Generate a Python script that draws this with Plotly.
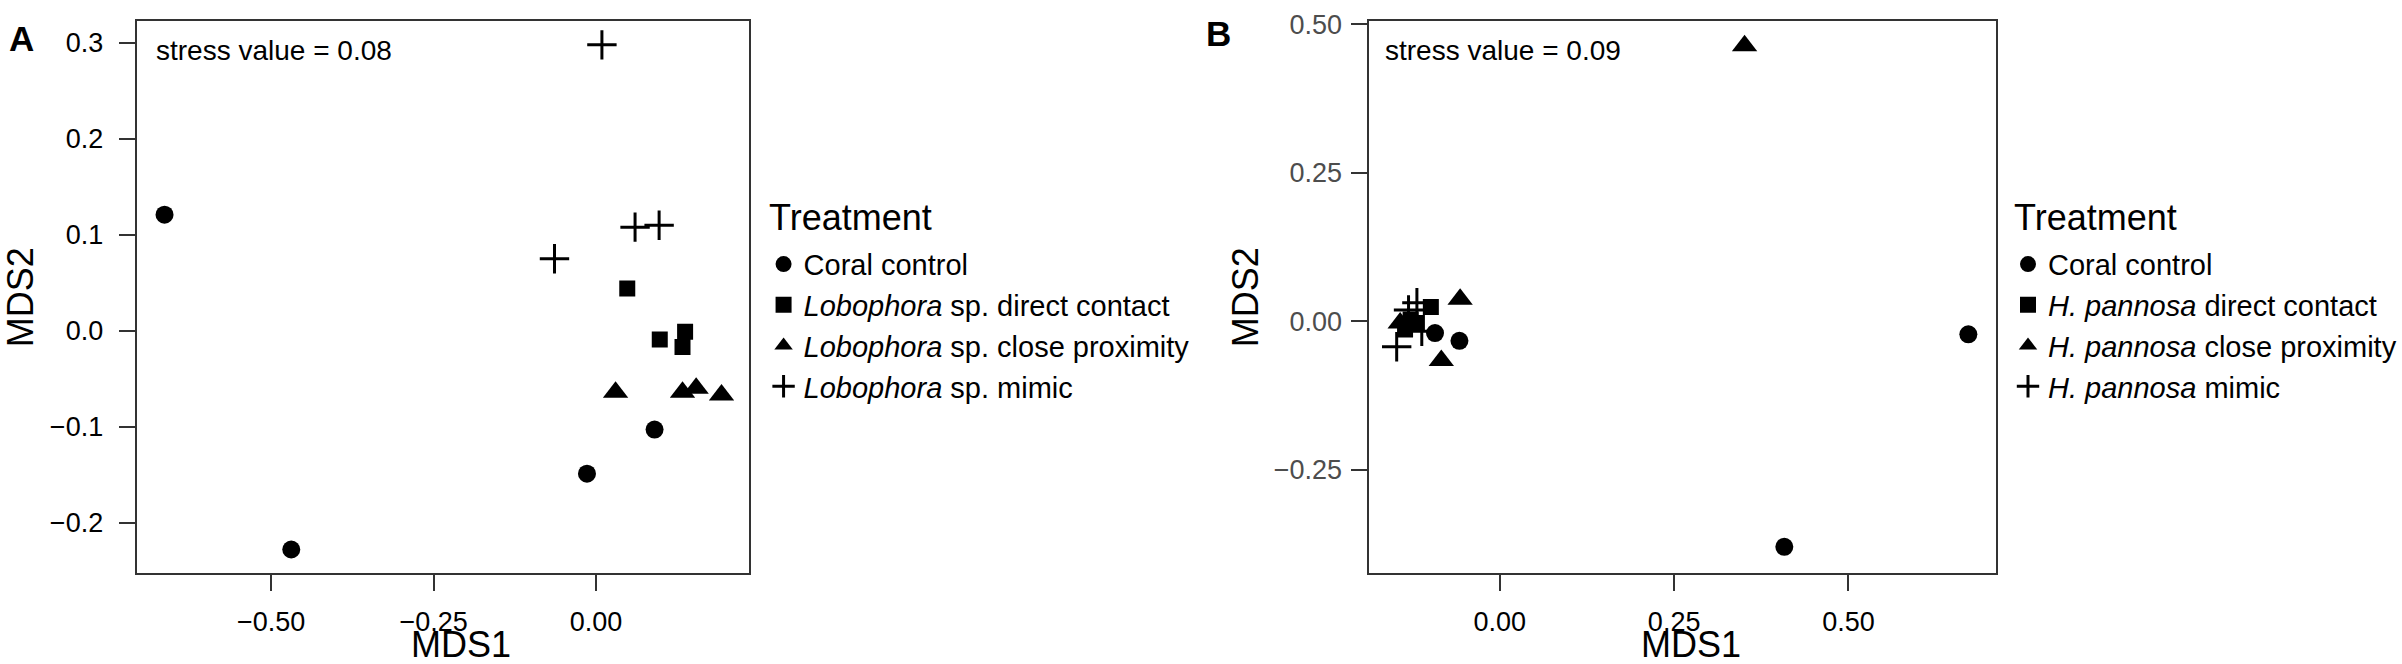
import plotly.graph_objects as go

# Panel A - Lobophora sp.
a_control_x = [-0.664, -0.469, -0.014, 0.090]
a_control_y = [0.121, -0.228, -0.149, -0.103]
a_direct_x = [0.048, 0.098, 0.137, 0.133]
a_direct_y = [0.044, -0.009, -0.001, -0.017]
a_proximity_x = [0.030, 0.133, 0.154, 0.193]
a_proximity_y = [-0.064, -0.064, -0.060, -0.067]
a_mimic_x = [0.009, -0.064, 0.060, 0.097]
a_mimic_y = [0.298, 0.075, 0.108, 0.110]

# Panel B - H. pannosa
b_control_x = [-0.093, -0.058, 0.672, 0.408]
b_control_y = [-0.020, -0.033, -0.022, -0.380]
b_direct_x = [-0.099, -0.128, -0.136, -0.119]
b_direct_y = [0.024, 0.003, -0.014, -0.003]
b_proximity_x = [0.351, -0.057, -0.084, -0.143]
b_proximity_y = [0.464, 0.037, -0.066, -0.003]
b_mimic_x = [-0.148, -0.119, -0.112, -0.131]
b_mimic_y = [-0.043, 0.031, -0.017, 0.019]

a_names = ["Coral control",
           "<i>Lobophora</i> sp. direct contact",
           "<i>Lobophora</i> sp. close proximity",
           "<i>Lobophora</i> sp. mimic"]
b_names = ["Coral control",
           "<i>H. pannosa</i> direct contact",
           "<i>H. pannosa</i> close proximity",
           "<i>H. pannosa</i> mimic"]

legend_title = "Treatment"
a_stress = "stress value = 0.08"
b_stress = "stress value = 0.09"

a_yticks = [0.3, 0.2, 0.1, 0.0, -0.1, -0.2]
a_xticks = [-0.50, -0.25, 0.00]
b_yticks = [0.50, 0.25, 0.00, -0.25]
b_xticks = [0.00, 0.25, 0.50]

FONT = "Liberation Sans, Arial, sans-serif"
AXIS_COLOR = "#333333"

markers = [
    dict(symbol="circle", size=18, color="black"),
    dict(symbol="square", size=16, color="black"),
    dict(symbol="triangle-up", size=22, color="black"),
    dict(symbol="cross-thin", size=21, color="black", line=dict(width=3, color="black")),
]

fig = go.Figure()

a_data = [(a_control_x, a_control_y), (a_direct_x, a_direct_y),
          (a_proximity_x, a_proximity_y), (a_mimic_x, a_mimic_y)]
b_data = [(b_control_x, b_control_y), (b_direct_x, b_direct_y),
          (b_proximity_x, b_proximity_y), (b_mimic_x, b_mimic_y)]

for (x, y), name, m in zip(a_data, a_names, markers):
    fig.add_trace(go.Scatter(x=x, y=y, mode="markers", name=name, marker=m,
                             xaxis="x", yaxis="y", legend="legend"))

for (x, y), name, m in zip(b_data, b_names, markers):
    fig.add_trace(go.Scatter(x=x, y=y, mode="markers", name=name, marker=m,
                             xaxis="x2", yaxis="y2", legend="legend2"))

def axis(domain, rng, ticks, fmt, tick_color, label_gap, anchor, title="", standoff=0):
    return dict(
        domain=domain,
        range=rng,
        tickvals=ticks,
        tickformat=fmt,
        ticks="outside",
        ticklen=16,
        tickwidth=2,
        tickcolor=AXIS_COLOR,
        ticklabelstandoff=label_gap,
        ticklabeloverflow="allow",
        tickfont=dict(family=FONT, size=27, color=tick_color),
        showline=True,
        linecolor=AXIS_COLOR,
        linewidth=2,
        mirror=True,
        showgrid=False,
        zeroline=False,
        anchor=anchor,
        title=dict(text=title, font=dict(family=FONT, size=36, color="black"), standoff=standoff),
    )

y_dom = [0.1386, 0.9849]

legend_style = dict(
    xanchor="left", yanchor="top",
    font=dict(family=FONT, size=29, color="black"),
    bgcolor="rgba(0,0,0,0)",
)

fig.update_layout(
    width=2402,
    height=664,
    margin=dict(l=0, r=0, t=0, b=0),
    paper_bgcolor="white",
    plot_bgcolor="white",
    font=dict(family=FONT, color="black"),
    xaxis=axis([0.0558, 0.3118], [-0.707, 0.236], a_xticks, ".2f", "black", 7, "y"),
    yaxis=axis(y_dom, [-0.253, 0.323], a_yticks, ".1f", "black", 10, "x", "MDS2", 25),
    xaxis2=axis([0.5708, 0.8326], [-0.187, 0.712], b_xticks, ".2f", "black", 7, "y2"),
    yaxis2=axis(y_dom, [-0.425, 0.506], b_yticks, ".2f", "#4d4d4d", 4, "x2", "MDS2", 4),
    legend=dict(x=0.3177, y=0.6512, **legend_style),
    legend2=dict(x=0.8376, y=0.6512, **legend_style),
    showlegend=True,
)

# legend titles
for x in [0.3193, 0.8393]:
    fig.add_annotation(text=legend_title, x=x, y=0.6837, xref="paper", yref="paper",
                       xanchor="left", yanchor="middle", showarrow=False,
                       font=dict(family=FONT, size=36, color="black"))

# x axis titles sit right at the bottom edge
fig.add_annotation(text="MDS1", x=0.53, y=-0.004, xref="x domain", yref="paper",
                   xanchor="center", yanchor="bottom", showarrow=False,
                   font=dict(family=FONT, size=36, color="black"))
fig.add_annotation(text="MDS1", x=0.513, y=-0.004, xref="x2 domain", yref="paper",
                   xanchor="center", yanchor="bottom", showarrow=False,
                   font=dict(family=FONT, size=36, color="black"))

# panel letters
fig.add_annotation(text="<b>A</b>", x=18.5 / 2402, y=1 - 27.5 / 664, xref="paper", yref="paper",
                   xanchor="center", yanchor="middle", showarrow=False,
                   font=dict(family=FONT, size=35, color="black"))
fig.add_annotation(text="<b>B</b>", x=1220 / 2402, y=1 - 22.5 / 664, xref="paper", yref="paper",
                   xanchor="center", yanchor="middle", showarrow=False,
                   font=dict(family=FONT, size=35, color="black"))

# stress values
fig.add_annotation(text=a_stress, x=0.029, y=0.947, xref="x domain", yref="y domain",
                   xanchor="left", yanchor="middle", showarrow=False,
                   font=dict(family=FONT, size=28, color="black"))
fig.add_annotation(text=b_stress, x=0.022, y=0.947, xref="x2 domain", yref="y2 domain",
                   xanchor="left", yanchor="middle", showarrow=False,
                   font=dict(family=FONT, size=28, color="black"))

# page body has a default margin; drop it so the figure fills the window
fig.write_html("out.html", config={"displayModeBar": False},
               post_script="document.body.style.margin = '0px';")
